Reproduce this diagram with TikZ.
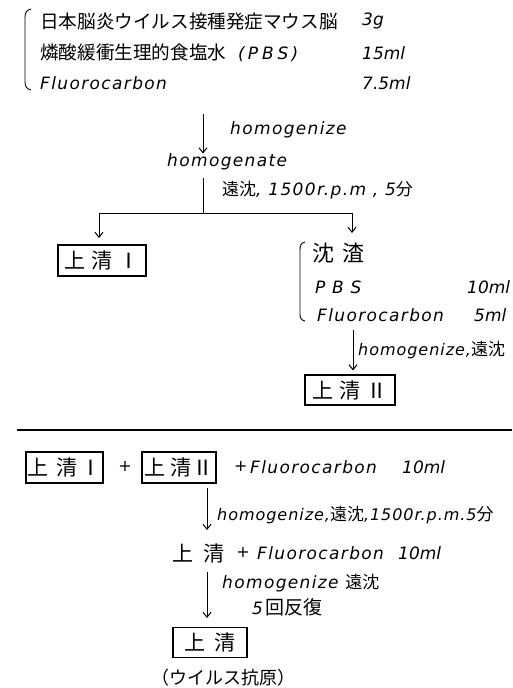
\documentclass[tikz,border=0pt]{standalone}
\usepackage{fontspec}
\setmainfont{DejaVu Sans}
\newfontfamily\jp{Noto Sans CJK JP}
\newfontfamily\lat[LetterSpace=8]{DejaVu Sans}
\newfontfamily\num{DejaVu Sans}
\newcommand{\jk}[1]{{\jp\fontsize{17}{17}\selectfont #1}}
\usetikzlibrary{arrows.meta}
\tikzset{
  jt/.style={font=\jp\fontsize{18.6}{18.6}\selectfont, inner sep=0pt, anchor=west},
  jbig/.style={font=\jp\fontsize{21}{21}\selectfont, inner sep=0pt},
  lt/.style={font=\lat\itshape\fontsize{17}{17}\selectfont, inner sep=0pt, anchor=west},
  nt/.style={font=\num\itshape\fontsize{17}{17}\selectfont, inner sep=0pt, anchor=west},
  boxnode/.style={draw, line width=1.1pt, jbig, minimum height=31pt},
  arr/.style={line width=1pt, -{Straight Barb[length=5pt,width=8pt]}},
  ln/.style={line width=1pt},
  bracestyle/.style={line width=0.9pt},
}
\begin{document}
\begin{tikzpicture}[x=1pt,y=-1pt]
\useasboundingbox[fill=white] (0,0) rectangle (512,688);
% top list
\draw[bracestyle] (31,9) .. controls (27,10) and (25,12) .. (25,17) -- (25,82) .. controls (25,87) and (27,89) .. (31,90);
\node[jt] (l1) at (40,21) {日本脳炎ウイルス接種発症マウス脳};
\node[jt] (l2) at (40,53) {燐酸緩衝生理的食塩水\hspace{12pt}{\num\itshape\fontsize{17}{17}\selectfont (\hspace{3pt}P\hspace{4pt}B\hspace{4pt}S\hspace{3pt})}};
\node[lt] (l3) at (40,83) {Fluorocarbon};
\node[nt] (v1) at (362,21) {3g};
\node[nt] (v2) at (362,53) {15ml};
\node[nt] (v3) at (362,83) {7.5ml};
% first arrow
\coordinate (a1) at (203,114);
\node[lt] (hz1) at (230,130) {homogenize};
\node[lt] (hg) at (167,162) {homogenate};
\draw[arr] (a1) -- (a1 |- hg.north);
% split
\coordinate (s1) at (203,178);
\coordinate (j1) at (203,213);
\coordinate (tl) at (99,238);
\coordinate (tr) at (352,233);
\node[lt] (cf1) at (222,190) {\jk{遠沈}, 1500r.p.m , 5\jk{分}};
\draw[ln] (s1) -- (j1);
\draw[arr] (j1) -| (tl);
\draw[arr] (j1) -| (tr);
\node[boxnode, minimum width=88pt] (b1) at (102,260.5) {上\hspace{6pt}清\hspace{6pt}Ⅰ};
% right group
\draw[bracestyle] (305,242) .. controls (301,243) and (300,245) .. (300,250) -- (300,314) .. controls (300,318) and (301,320) .. (305,321);
\node[jt, font=\jp\fontsize{22}{22}\selectfont] (cz) at (312,253) {沈\hspace{8pt}渣};
\node[lt] (pbs) at (315,287) {P B S};
\node[nt] (v4) at (467,287) {10ml};
\node[lt] (fc2) at (317,315) {Fluorocarbon};
\node[nt] (v5) at (474,315) {5ml};
\coordinate (a2) at (353,330);
\node[lt, font=\lat\itshape\fontsize{16}{16}\selectfont\addfontfeature{LetterSpace=6}] (hz2) at (358,350) {homogenize,\jk{遠沈}};
\node[boxnode, minimum width=90pt, minimum height=30pt] (b2) at (350,390) {上\hspace{6pt}清\hspace{6pt}Ⅱ};
\draw[arr] (a2) -- ([yshift=4pt]a2 |- b2.north);
% rule
\coordinate (r1) at (17,430);
\coordinate (r2) at (512,430);
\draw[line width=1.2pt] (r1) -- (r2);
% bottom
\node[boxnode, minimum width=77pt] (b3) at (64.5,467.5) {上\hspace{8pt}清\hspace{3pt}Ⅰ};
\node[font=\fontsize{16}{16}\selectfont, inner sep=0pt] (p1) at (125,466) {+};
\node[boxnode, minimum width=74pt] (b4) at (179,467.5) {上\hspace{6pt}清\hspace{1pt}Ⅱ};
\node[lt, font=\fontsize{16}{16}\selectfont] (p2) at (234,466) {+};
\node[lt] (f1) at (250,467) {Fluorocarbon};
\node[nt] (m1) at (402,467) {10ml};
\coordinate (a3) at (207,488);
\coordinate (a3e) at (207,530);
\node[lt, font=\lat\itshape\fontsize{16}{16}\selectfont\addfontfeature{LetterSpace=6}] (hz3) at (217,515) {homogenize,\jk{遠沈},1500r.p.m.5\jk{分}};
\draw[arr] (a3) -- (a3e);
\node[jbig, anchor=west] (u) at (172,553) {上\hspace{10pt}清};
\node[font=\fontsize{16}{16}\selectfont, inner sep=0pt] (p3) at (243,552) {+};
\node[lt] (f2) at (257,553) {Fluorocarbon};
\node[nt] (m2) at (398,553) {10ml};
\coordinate (a4) at (207,572);
\coordinate (a4e) at (207,618);
\node[lt] (hz4) at (222,583) {homogenize \jk{遠沈}};
\node[lt] (rep) at (252,607) {5\hspace{2pt}{\jp\fontsize{19}{19}\selectfont 回反復}};
\draw[arr] (a4) -- (a4e);
\node[boxnode, minimum width=74pt, minimum height=30pt] (b5) at (210,642.5) {上\hspace{10pt}清};
\node[font=\jp\fontsize{18}{18}\selectfont, inner sep=0pt] (ag) at (223,678) {（ウイルス抗原）};
\end{tikzpicture}
\end{document}
